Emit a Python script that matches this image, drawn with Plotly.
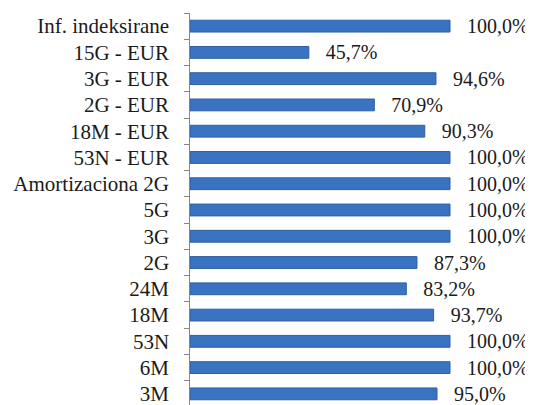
import plotly.graph_objects as go

categories = ["Inf. indeksirane", "15G - EUR", "3G - EUR", "2G - EUR", "18M - EUR",
              "53N - EUR", "Amortizaciona 2G", "5G", "3G", "2G", "24M", "18M",
              "53N", "6M", "3M"]
values = [100.0, 45.7, 94.6, 70.9, 90.3, 100.0, 100.0, 100.0, 100.0, 87.3,
          83.2, 93.7, 100.0, 100.0, 95.0]
labels = ["\u2002\u2009" + f"{v:.1f}".replace(".", ",") + "%" for v in values]

FONT = "Liberation Serif, Times New Roman, serif"

fig = go.Figure(go.Bar(
    y=categories, x=values, orientation="h",
    text=labels, textposition="outside", cliponaxis=False, constraintext="none",
    textfont=dict(family=FONT, size=20, color="#1a1a1a"),
    marker=dict(color="#3A73C2", line=dict(color="#2F5F9F", width=1)),
))

# page body has an 8px default margin, so margins are reduced by 8px
fig.update_layout(
    width=533, height=405,
    margin=dict(l=182, r=0, t=5, b=6, autoexpand=False),
    paper_bgcolor="white", plot_bgcolor="white",
    bargap=0.55, showlegend=False,
    font=dict(family=FONT, size=20, color="#1a1a1a"),
)
fig.update_xaxes(range=[0, 135.0], visible=False, automargin=False)
fig.update_yaxes(
    autorange="reversed", showline=True, linecolor="#868686", linewidth=1,
    ticks="outside", ticklen=5, tickcolor="#868686", tickson="boundaries",
    ticksuffix="\u2002\u2005", showgrid=False, automargin=False,
    tickfont=dict(family=FONT, size=21, color="#1a1a1a"),
)

fig.write_html("out.html")
